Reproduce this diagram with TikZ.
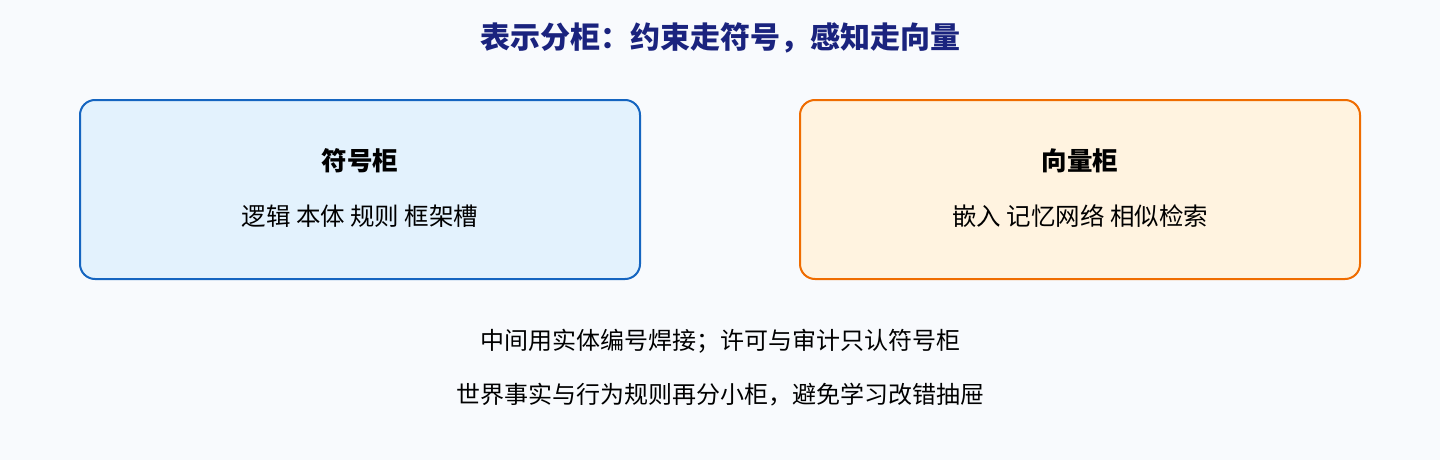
\documentclass[tikz,border=0pt]{standalone}
\usepackage{fontspec}
\setmainfont{Noto Sans CJK SC}
\newfontfamily\cjk{Noto Sans CJK SC}
\definecolor{bgc}{HTML}{F8FAFD}
\definecolor{titlec}{HTML}{1A237E}
\definecolor{bluefill}{HTML}{E3F2FD}
\definecolor{blueline}{HTML}{1565C0}
\definecolor{orangefill}{HTML}{FFF3E0}
\definecolor{orangeline}{HTML}{EF6C00}
\tikzset{
  panel/.style={rounded corners=15pt, line width=2pt, minimum width=560pt, minimum height=179pt, inner sep=0pt},
  bluepanel/.style={panel, draw=blueline, fill=bluefill},
  orangepanel/.style={panel, draw=orangeline, fill=orangefill},
  titletext/.style={font=\cjk\bfseries\fontsize{30pt}{30pt}\selectfont, text=titlec, inner sep=0pt},
  headtext/.style={font=\cjk\bfseries\fontsize{25.5pt}{25.5pt}\selectfont, text=black, inner sep=0pt},
  bodytext/.style={font=\cjk\fontsize{24pt}{24pt}\selectfont, text=black, inner sep=0pt},
  panelbody/.style={bodytext, font=\cjk\fontsize{24.5pt}{24.5pt}\selectfont}
}
\begin{document}
\begin{tikzpicture}[x=1pt,y=-1pt]
\fill[bgc] (0,0) rectangle (1440,460);
\useasboundingbox (0,0) rectangle (1440,460);
\node[titletext] (title) at (720,38) {表示分柜：约束走符号，感知走向量};
\node[bluepanel] (sym) at (360,189.5) {};
\node[orangepanel] (vec) at (1080,189.5) {};
\node[headtext] (symh) at (360,161) {符号柜};
\node[panelbody] (symb) at (360,216) {逻辑 本体 规则 框架槽};
\node[headtext] (vech) at (1080,161) {向量柜};
\node[panelbody] (vecb) at (1080,216) {嵌入 记忆网络 相似检索};
\node[bodytext] (note1) at (720,341) {中间用实体编号焊接；许可与审计只认符号柜};
\node[bodytext] (note2) at (720,395) {世界事实与行为规则再分小柜，避免学习改错抽屉};
\end{tikzpicture}
\end{document}
